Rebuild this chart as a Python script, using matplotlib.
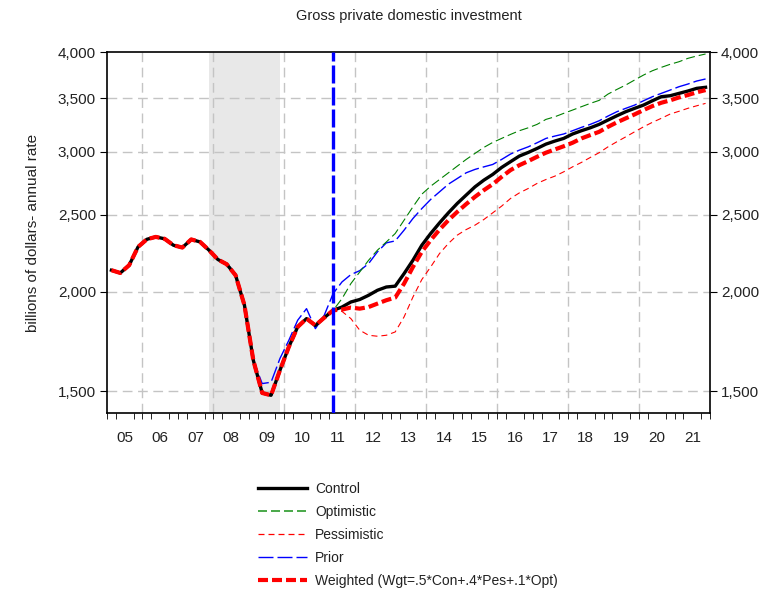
import numpy as np
import matplotlib
matplotlib.use('Agg')
import matplotlib.pyplot as plt
from matplotlib.ticker import FixedLocator, NullLocator, FuncFormatter
from matplotlib.lines import Line2D

plt.rcParams['font.family'] = ['Liberation Sans Narrow', 'Liberation Sans', 'DejaVu Sans']
plt.rcParams['lines.scale_dashes'] = False

# quarterly data, 2005Q1 .. 2021Q4 (billions of dollars, annual rate)
first_year = 2005
last_year = 2021

# history shared by all scenarios, 2005Q1 .. 2011Q2
history = [2129, 2112, 2160, 2277, 2328, 2344, 2331, 2288, 2273, 2327, 2310, 2256,
           2196, 2166, 2098, 1924, 1641, 1493, 1483, 1594, 1705, 1807, 1851, 1815,
           1856, 1896]

# forecasts, 2011Q3 .. 2021Q4
control_fc = [1914, 1942, 1956, 1980, 2009, 2028, 2033, 2108, 2191, 2288,
              2367, 2441, 2513, 2582, 2645, 2709, 2762, 2808, 2865, 2913,
              2961, 2992, 3027, 3065, 3092, 3116, 3156, 3186, 3213, 3245,
              3286, 3327, 3366, 3399, 3431, 3474, 3515, 3525, 3549, 3573,
              3601, 3612]
optimistic_fc = [1961, 2048, 2118, 2191, 2256, 2310, 2367, 2460, 2557, 2652,
                 2714, 2767, 2821, 2876, 2932, 2984, 3036, 3080, 3116, 3152,
                 3186, 3213, 3245, 3292, 3317, 3350, 3382, 3415, 3448, 3478,
                 3542, 3590, 3636, 3689, 3742, 3789, 3826, 3860, 3889, 3927,
                 3954, 3977]
pessimistic_fc = [1890, 1851, 1790, 1764, 1759, 1764, 1781, 1860, 1970, 2072,
                  2149, 2234, 2300, 2356, 2394, 2425, 2465, 2513, 2562, 2619,
                  2662, 2696, 2736, 2767, 2794, 2829, 2870, 2907, 2949, 2990,
                  3041, 3086, 3130, 3176, 3222, 3264, 3302, 3343, 3370, 3399,
                  3424, 3448]
weighted_fc = [1900, 1911, 1905, 1914, 1933, 1952, 1967, 2048, 2149, 2245,
               2322, 2394, 2460, 2520, 2577, 2632, 2683, 2730, 2788, 2843,
               2884, 2918, 2955, 2990, 3018, 3046, 3077, 3116, 3146, 3176,
               3222, 3264, 3302, 3340, 3382, 3421, 3454, 3478, 3508, 3532,
               3560, 3583]

# prior forecast, full range 2005Q1 .. 2021Q4
prior = [2129, 2112, 2160, 2277, 2328, 2344, 2331, 2288, 2273, 2327, 2310, 2256,
         2196, 2172, 2105, 1924, 1641, 1534, 1540, 1649, 1738, 1842, 1905, 1798,
         1869, 1990, 2058, 2102, 2126, 2170, 2245, 2304, 2317, 2390, 2472, 2544,
         2612, 2670, 2730, 2775, 2821, 2849, 2870, 2890, 2932, 2978, 3012, 3041,
         3077, 3116, 3137, 3156, 3186, 3217, 3245, 3279, 3324, 3366, 3399, 3431,
         3474, 3515, 3549, 3583, 3618, 3646, 3678, 3700]

recession = (2007.875, 2009.875)
forecast_start = 2011.375
year_labels = ['05', '06', '07', '08', '09', '10', '11', '12', '13',
               '14', '15', '16', '17', '18', '19', '20', '21']
yticks = [1500, 2000, 2500, 3000, 3500, 4000]

n = (last_year - first_year + 1) * 4
t = first_year + (np.arange(n) + 0.5) / 4

control = history + control_fc
optimistic = history + optimistic_fc
pessimistic = history + pessimistic_fc
weighted = history + weighted_fc

fig = plt.figure(figsize=(7.83, 5.94), dpi=100)
ax = fig.add_axes([107 / 783, 1 - 413 / 594, 603 / 783, 361 / 594])

ax.set_yscale('log')
ax.set_xlim(first_year, last_year + 1)
ax.set_ylim(1409, 4000)

# recession shading and grid
ax.axvspan(recession[0], recession[1], color='#e8e8e8', zorder=0, lw=0)
grid_kw = dict(color='#c4c4c4', lw=1, dashes=(7, 4), zorder=1)
for yr in range(2006, 2021, 2):
    ax.axvline(yr, **grid_kw)
for v in yticks[:-1]:
    ax.axhline(v, **grid_kw)

px = 0.72  # points per pixel
ax.plot(t, prior, color='#0000ff', lw=1.0, dashes=(15 * px, 4 * px), zorder=3)
ax.plot(t, pessimistic, color='#ff0000', lw=0.8, dashes=(6 * px, 4 * px), zorder=3)
ax.plot(t, optimistic, color='#008000', lw=0.8, dashes=(9 * px, 4 * px), zorder=3)
ax.plot(t, control, color='black', lw=2.4, zorder=4)
ax.plot(t, weighted, color='#ff0000', lw=3.0, dashes=(10 * px, 4 * px), zorder=5)

ax.axvline(forecast_start, color='#0000ff', lw=2.4, dashes=(18 * px, 4 * px), zorder=6)

# axes styling
ax.yaxis.set_major_locator(FixedLocator(yticks))
ax.yaxis.set_minor_locator(NullLocator())
ax.yaxis.set_major_formatter(FuncFormatter(lambda v, p: f'{v:,.0f}'))
ax.tick_params(axis='y', which='major', left=True, right=True, labelleft=True,
               labelright=True, direction='out', length=5, labelsize=11, pad=3,
               labelcolor='#222222')

ax.set_xticks(np.arange(first_year, last_year + 1) + 0.5)
ax.set_xticklabels(year_labels)
ax.set_xticks(np.arange(first_year, last_year + 1.01, 0.25), minor=True)
ax.tick_params(axis='x', which='major', length=0, labelsize=11, pad=13,
               labelcolor='#222222')
ax.tick_params(axis='x', which='minor', direction='out', length=4)

for s in ax.spines.values():
    s.set_linewidth(1.2)

ax.set_ylabel('billions of dollars- annual rate', fontsize=11, labelpad=13,
              color='#222222')
ax.set_title('Gross private domestic investment', fontsize=10.5, pad=23,
             color='#222222')

handles = [
    Line2D([], [], color='black', lw=2.4),
    Line2D([], [], color='#2a9a2a', lw=1.2, dashes=(9 * px, 4 * px)),
    Line2D([], [], color='#ff0000', lw=0.9, dashes=(6 * px, 4 * px)),
    Line2D([], [], color='#0000ff', lw=1.0, dashes=(15 * px, 4 * px)),
    Line2D([], [], color='#ff0000', lw=3.0, dashes=(10 * px, 4 * px)),
]
labels = ['Control', 'Optimistic', 'Pessimistic', 'Prior',
          'Weighted (Wgt=.5*Con+.4*Pes+.1*Opt)']
leg = fig.legend(handles, labels, loc='upper left',
                 bbox_to_anchor=(258 / 783, 1 - 482 / 594),
                 frameon=False, fontsize=10, handlelength=3.5, handletextpad=0.6,
                 labelspacing=0.65, borderpad=0, borderaxespad=0)
for txt in leg.get_texts():
    txt.set_color('#222222')

fig.savefig('out.png', dpi=100)
